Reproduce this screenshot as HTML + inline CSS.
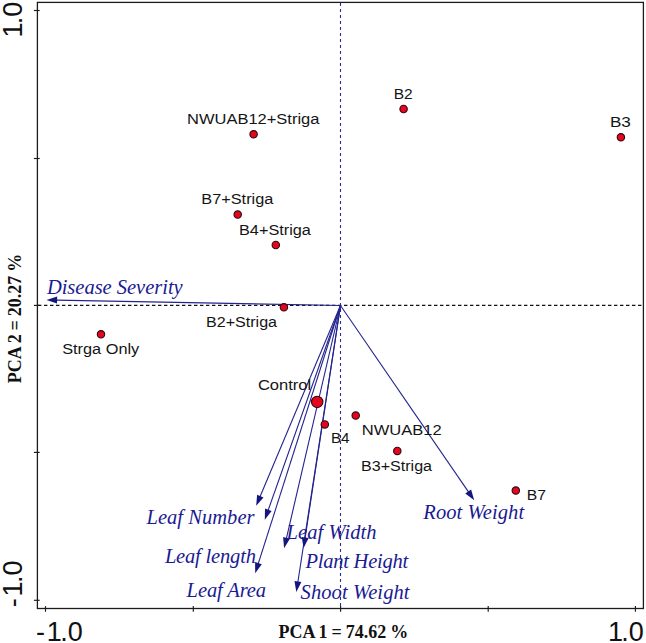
<!DOCTYPE html>
<html><head><meta charset="utf-8"><title>PCA biplot</title>
<style>
html,body{margin:0;padding:0;background:#fff;}
svg{display:block;}
.lab{font-family:"Liberation Sans",Arial,sans-serif;font-size:15.2px;fill:#151515;}
.tick{font-family:"Liberation Sans",Arial,sans-serif;font-size:27px;fill:#111;}
.var{font-family:"Liberation Serif","Times New Roman",serif;font-style:italic;font-size:20.5px;fill:#1a1a92;}
.axt{font-family:"Liberation Serif","Times New Roman",serif;font-weight:bold;font-size:18px;word-spacing:-0.55px;fill:#111;}
.pt{fill:#e4061f;stroke:#2c080e;stroke-width:1.1;}
.ar{stroke:#23238f;stroke-width:1.1;fill:none;}
.ah{fill:#15157e;stroke:none;}
</style></head>
<body>
<svg width="646" height="643" viewBox="0 0 646 643">
<rect x="0" y="0" width="646" height="643" fill="#fff"/>
<!-- frame -->
<rect x="37.4" y="2.4" width="606" height="606.1" fill="none" stroke="#1c1c1c" stroke-width="1.3"/>
<!-- ticks -->
<g stroke="#1c1c1c" stroke-width="1.15">
<line x1="33.9" y1="10.5" x2="39.7" y2="10.5"/>
<line x1="33.9" y1="158.5" x2="39.7" y2="158.5"/>
<line x1="33.9" y1="305.4" x2="39.7" y2="305.4"/>
<line x1="33.9" y1="452.4" x2="39.7" y2="452.4"/>
<line x1="33.9" y1="600.3" x2="39.7" y2="600.3"/>
<line x1="45.5" y1="606.1" x2="45.5" y2="611.8"/>
<line x1="193.3" y1="606.1" x2="193.3" y2="611.8"/>
<line x1="340.6" y1="606.1" x2="340.6" y2="611.8"/>
<line x1="488.2" y1="606.1" x2="488.2" y2="611.8"/>
<line x1="635.4" y1="606.1" x2="635.4" y2="611.8"/>
</g>
<!-- zero lines -->
<line x1="38" y1="305.3" x2="643.5" y2="305.3" stroke="#111" stroke-width="1.15" stroke-dasharray="3.4 2.6"/>
<line x1="340.5" y1="3" x2="340.5" y2="608.5" stroke="#2a2a9a" stroke-width="1.1" stroke-dasharray="3 3"/>
<!-- arrows -->
<g class="ar">
<line x1="340.5" y1="305.5" x2="56.1" y2="300.1"/>
<line x1="340.5" y1="305.5" x2="259.9" y2="497.0"/>
<line x1="340.5" y1="305.5" x2="268.0" y2="510.7"/>
<line x1="340.5" y1="305.5" x2="258.1" y2="564.2"/>
<line x1="340.5" y1="305.5" x2="286.3" y2="538.8"/>
<line x1="340.5" y1="305.5" x2="305.0" y2="538.6"/>
<line x1="340.5" y1="305.5" x2="297.8" y2="582.5"/>
<line x1="340.5" y1="305.5" x2="468.8" y2="492.4"/>
</g>
<g class="ah">
<polygon points="46.5,299.9 57.2,296.6 57.0,303.6"/>
<polygon points="256.2,505.8 257.1,494.7 263.5,497.4"/>
<polygon points="264.8,519.8 265.0,508.6 271.6,511.0"/>
<polygon points="255.2,573.3 255.1,562.1 261.8,564.3"/>
<polygon points="284.1,548.2 283.1,537.1 289.9,538.7"/>
<polygon points="303.6,548.1 301.7,537.1 308.7,538.1"/>
<polygon points="296.3,592.0 294.5,581.0 301.4,582.1"/>
<polygon points="474.2,500.3 465.3,493.5 471.1,489.6"/>
</g>
<!-- points -->
<g class="pt">
<circle cx="253.6" cy="134.3" r="3.7"/>
<circle cx="237.7" cy="214.6" r="3.7"/>
<circle cx="275.8" cy="245.0" r="3.7"/>
<circle cx="283.9" cy="307.3" r="3.7"/>
<circle cx="101.0" cy="334.3" r="3.7"/>
<circle cx="317.2" cy="401.9" r="5.7"/>
<circle cx="324.8" cy="424.4" r="3.7"/>
<circle cx="355.7" cy="415.6" r="3.7"/>
<circle cx="397.3" cy="450.9" r="3.7"/>
<circle cx="515.8" cy="490.6" r="3.7"/>
<circle cx="403.6" cy="109.0" r="3.7"/>
<circle cx="620.9" cy="137.3" r="3.7"/>
</g>
<!-- point labels -->
<g class="lab">
<text x="187.1" y="124.3" textLength="132.3" lengthAdjust="spacingAndGlyphs">NWUAB12+Striga</text>
<text x="201.3" y="204.3" textLength="72.0" lengthAdjust="spacingAndGlyphs">B7+Striga</text>
<text x="239.0" y="234.7" textLength="71.9" lengthAdjust="spacingAndGlyphs">B4+Striga</text>
<text x="206.0" y="326.9" textLength="71.0" lengthAdjust="spacingAndGlyphs">B2+Striga</text>
<text x="62.2" y="354.3" textLength="77.1" lengthAdjust="spacingAndGlyphs">Strga Only</text>
<text x="257.9" y="390.4" textLength="53.3" lengthAdjust="spacingAndGlyphs">Control</text>
<text x="330.9" y="443.2" textLength="18.7" lengthAdjust="spacingAndGlyphs">B4</text>
<text x="361.7" y="435.2" textLength="80.0" lengthAdjust="spacingAndGlyphs">NWUAB12</text>
<text x="361.0" y="470.5" textLength="71.0" lengthAdjust="spacingAndGlyphs">B3+Striga</text>
<text x="526.7" y="500.3" textLength="19.2" lengthAdjust="spacingAndGlyphs">B7</text>
<text x="393.7" y="99.4" textLength="19.0" lengthAdjust="spacingAndGlyphs">B2</text>
<text x="609.9" y="126.8" textLength="21.0" lengthAdjust="spacingAndGlyphs">B3</text>
</g>
<!-- variable labels -->
<g class="var">
<text x="46.9" y="294.1" textLength="135.8" lengthAdjust="spacing">Disease Severity</text>
<text x="146.5" y="524.2" textLength="108.0" lengthAdjust="spacing">Leaf Number</text>
<text x="164.9" y="562.6" textLength="91.0" lengthAdjust="spacing">Leaf length</text>
<text x="186.6" y="597.3" textLength="79.5" lengthAdjust="spacing">Leaf Area</text>
<text x="286.6" y="539.2" textLength="90.0" lengthAdjust="spacing">Leaf Width</text>
<text x="305.6" y="567.8" textLength="102.5" lengthAdjust="spacing">Plant Height</text>
<text x="300.6" y="598.6" textLength="108.9" lengthAdjust="spacing">Shoot Weight</text>
<text x="423.3" y="518.5" textLength="100.8" lengthAdjust="spacing">Root Weight</text>
</g>
<!-- axis titles -->
<text class="axt" x="278.6" y="638.1">PCA 1 = 74.62 %</text>
<text class="axt" transform="translate(20.6,383.3) rotate(-90)">PCA 2 = 20.27 %</text>
<!-- tick labels -->
<text class="tick" x="36.1" y="640.9" dx="0 1.7 -1.5 0">-1.0</text>
<text class="tick" x="606.2" y="640.9" dx="1.8 -1.8 0">1.0</text>
<text class="tick" transform="translate(21.7,607.2) rotate(-90)" dx="0 1.7 -1.5 0">-1.0</text>
<text class="tick" transform="translate(21.9,39.2) rotate(-90)" dx="1.8 -1.8 0">1.0</text>
</svg>
</body></html>
